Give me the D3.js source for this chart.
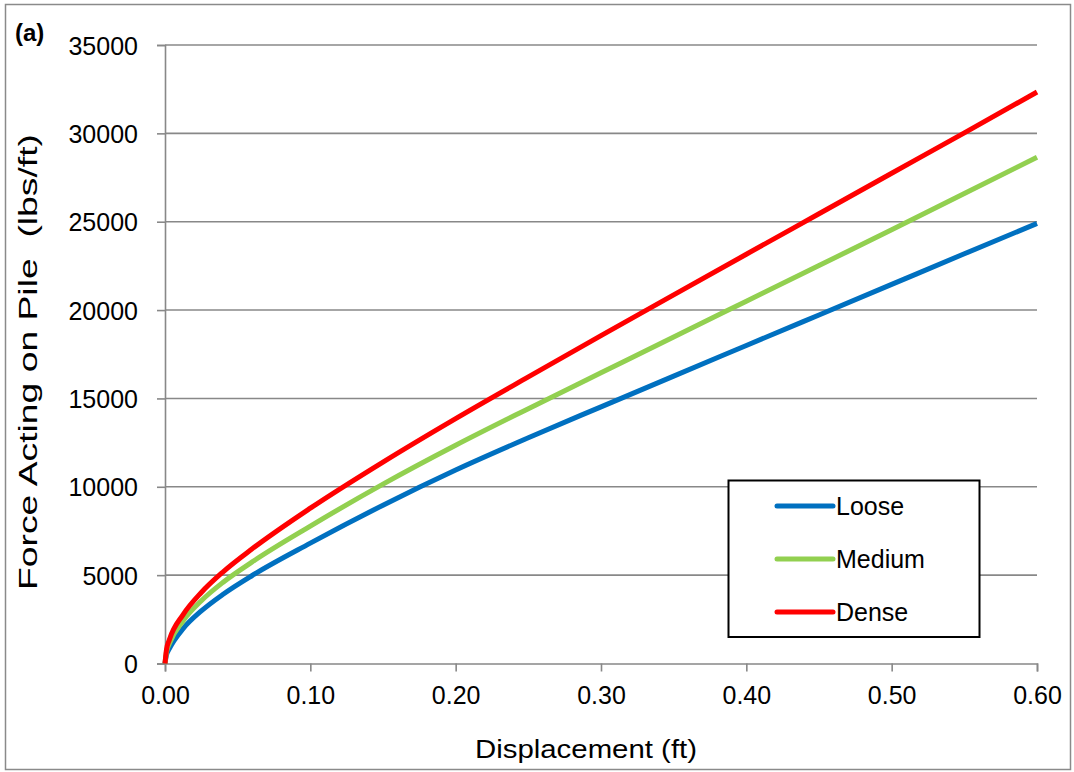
<!DOCTYPE html>
<html>
<head>
<meta charset="utf-8">
<script src="https://cdn.jsdelivr.net/npm/d3@7"></script>
<style>
  html, body { margin: 0; padding: 0; background: #fff; }
  text { font-family: "Liberation Sans", Arial, sans-serif; fill: #000; }
</style>
</head>
<body>
<svg id="chart" width="1074" height="772"></svg>
<script>
// ---- data ----
const displacement = [0, 0.001, 0.003, 0.0126, 0.025, 0.04, 0.06, 0.1, 0.15, 0.2, 0.25, 0.3, 0.35, 0.4, 0.45, 0.5, 0.55, 0.6];
const loose  = [0, 480, 835, 1985, 2975, 3920, 4980, 6810, 8960, 10950, 12775, 14525, 16265, 17995, 19725, 21455, 23185, 24900];
const medium = [0, 650, 1130, 2430, 3550, 4600, 5750, 7775, 10150, 12350, 14420, 16450, 18480, 20500, 22520, 24540, 26600, 28650];
const dense  = [0, 775, 1340, 2780, 4020, 5190, 6490, 8790, 11400, 13860, 16220, 18550, 20860, 23160, 25450, 27740, 30030, 32340];
const seriesNames = ["Loose", "Medium", "Dense"];
const seriesColors = ["#0070C0", "#92D050", "#FF0000"];
const xTicks = [0, 0.1, 0.2, 0.3, 0.4, 0.5, 0.6];
const yTicks = [0, 5000, 10000, 15000, 20000, 25000, 30000, 35000];

const seriesValues = [loose, medium, dense];

const svg = d3.select("#chart");
const plotLeft = 165, plotRight = 1037, plotTop = 45, plotBottom = 663.5;

const x = d3.scaleLinear().domain([0, 0.6]).range([plotLeft, plotRight]);
const y = d3.scaleLinear().domain([0, 35000]).range([plotBottom, plotTop]);

// outer frame
svg.append("rect").attr("x", 5.5).attr("y", 4.5).attr("width", 1065).attr("height", 765)
  .attr("fill", "#fff").attr("stroke", "#8a8a8a").attr("stroke-width", 1.5);

// gridlines
svg.append("g").selectAll("line").data(yTicks.filter(d => d > 0)).join("line")
  .attr("x1", plotLeft).attr("x2", plotRight)
  .attr("y1", d => y(d)).attr("y2", d => y(d))
  .attr("stroke", "#888").attr("stroke-width", 1.6);

// y axis
const yAxis = d3.axisLeft(y).tickValues(yTicks).tickSize(8).tickPadding(19).tickFormat(d3.format("d"));
const gy = svg.append("g").attr("transform", `translate(${plotLeft},0)`).call(yAxis);
gy.select(".domain").attr("stroke", "#888").attr("stroke-width", 1.6);
gy.selectAll(".tick line").attr("stroke", "#888").attr("stroke-width", 1.6);
gy.selectAll(".tick text").attr("font-size", 25).attr("font-family", "Liberation Sans, Arial, sans-serif")
  .attr("dy", "0.36em");

// x axis
const xAxis = d3.axisBottom(x).tickValues(xTicks).tickSize(8).tickPadding(15).tickFormat(d3.format(".2f"));
const gx = svg.append("g").attr("transform", `translate(0,${plotBottom})`).call(xAxis);
gx.select(".domain").attr("stroke", "#888").attr("stroke-width", 1.6);
gx.selectAll(".tick line").attr("stroke", "#888").attr("stroke-width", 1.6);
gx.selectAll(".tick text").attr("font-size", 25).attr("font-family", "Liberation Sans, Arial, sans-serif")
  .attr("dy", "0.71em");

// lines
const line = d3.line().x(d => x(d[0])).y(d => y(d[1])).curve(d3.curveMonotoneX);
seriesValues.forEach((vals, i) => {
  const pts = displacement.map((dx, j) => [dx, vals[j]]);
  svg.append("path").datum(pts).attr("d", line)
    .attr("fill", "none").attr("stroke", seriesColors[i]).attr("stroke-width", 5)
    .attr("stroke-linejoin", "round");
});

// axis titles
svg.append("text").attr("x", 586).attr("y", 758).attr("text-anchor", "middle")
  .attr("font-size", 26).attr("textLength", 222).attr("lengthAdjust", "spacingAndGlyphs")
  .text("Displacement (ft)");
svg.append("text").attr("transform", "translate(37,362) rotate(-90)").attr("text-anchor", "middle")
  .attr("font-size", 26).attr("textLength", 456).attr("lengthAdjust", "spacingAndGlyphs")
  .attr("xml:space", "preserve")
  .text("Force Acting on Pile  (lbs/ft)");

// panel label
svg.append("text").attr("x", 15).attr("y", 41).attr("font-size", 24).attr("font-weight", "bold")
  .text("(a)");

// legend
const lg = svg.append("g");
lg.append("rect").attr("x", 728.5).attr("y", 480.5).attr("width", 251).attr("height", 156.5)
  .attr("fill", "#fff").attr("stroke", "#000").attr("stroke-width", 2);
const legendY = [506, 559, 612];
seriesNames.forEach((name, i) => {
  lg.append("line").attr("x1", 777).attr("x2", 833).attr("y1", legendY[i]).attr("y2", legendY[i])
    .attr("stroke", seriesColors[i]).attr("stroke-width", 5).attr("stroke-linecap", "round");
  lg.append("text").attr("x", 836).attr("y", legendY[i]).attr("dy", "0.36em")
    .attr("font-size", 25).text(name);
});
</script>
</body>
</html>
